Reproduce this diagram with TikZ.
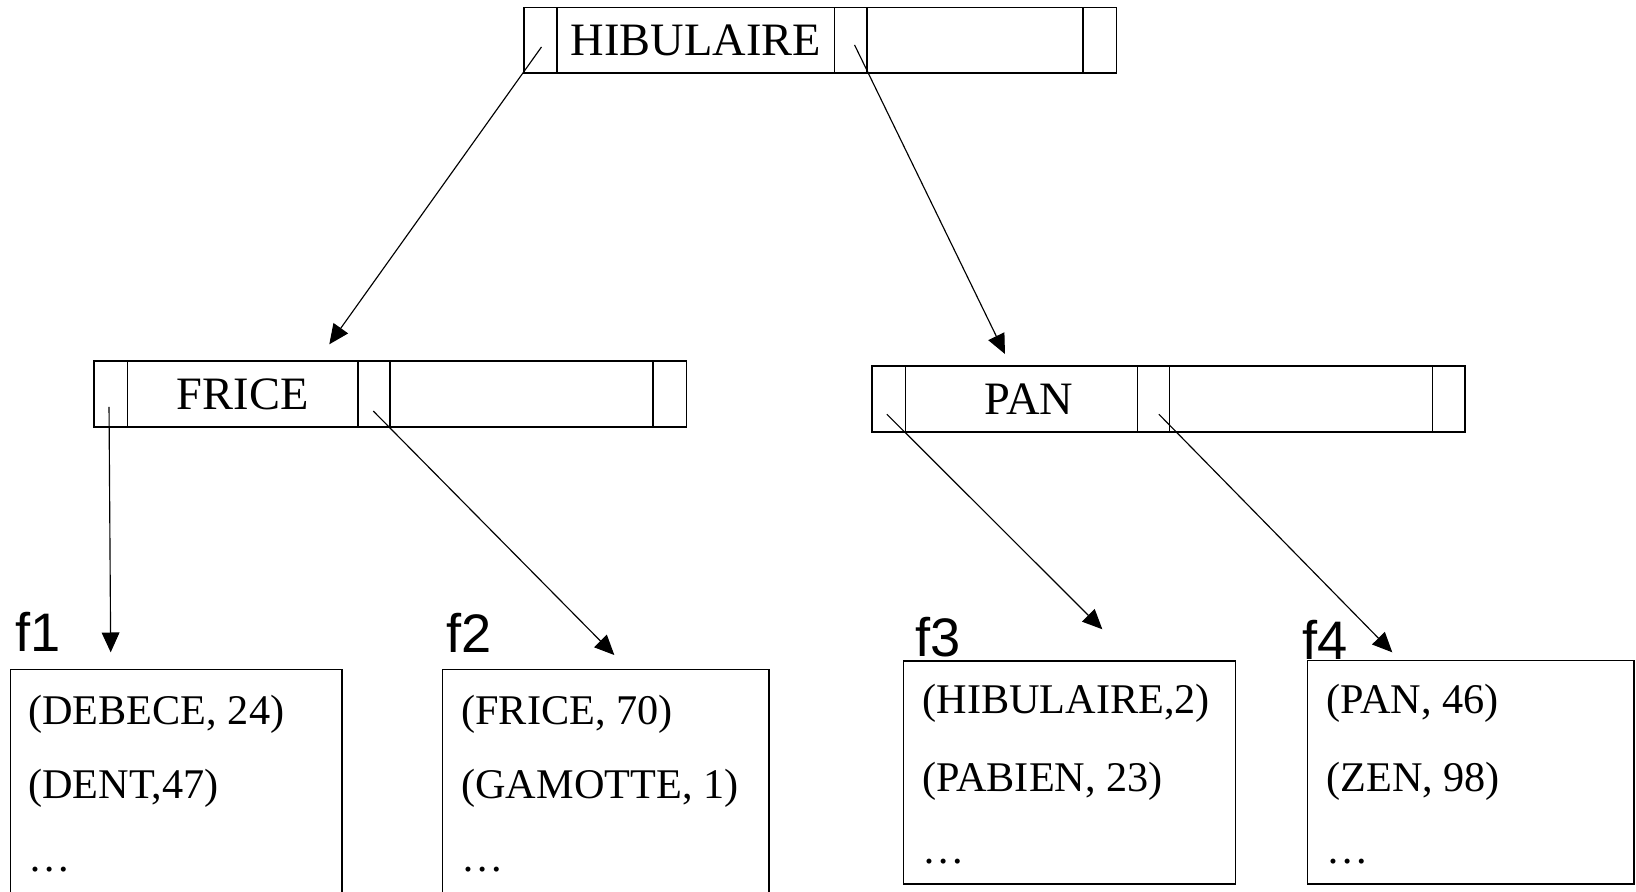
\documentclass[tikz,border=0pt]{standalone}
\usepackage{fontspec}
\setmainfont{Liberation Serif}
\newfontfamily\labelfont{Liberation Sans}
\usetikzlibrary{arrows.meta,calc}
\begin{document}
\begin{tikzpicture}[x=1pt,y=-1pt,
  cell/.style={draw,line width=1.5pt,minimum height=63pt,inner sep=0pt,outer sep=0pt,anchor=west,font=\fontsize{44.5}{50}\selectfont},
  leaf/.style={draw,line width=1.5pt,anchor=north west,inner sep=0pt,outer sep=0pt},
  entry/.style={anchor=base west,inner sep=0pt,font=\fontsize{40.5}{46}\selectfont},
  flabel/.style={anchor=base west,inner sep=0pt,font=\labelfont\fontsize{52}{58}\selectfont},
  ptr/.style={line width=1.1pt,-{Triangle[length=19pt,width=17pt]}}]
\useasboundingbox (0,0) rectangle (1568,854);
\clip (0,0) rectangle (1568,854);
% root index block
\node[cell,minimum width=32pt]  (h0) at (502,38.5) {};
\node[cell,minimum width=266pt] (h1) at (h0.east) {HIBULAIRE};
\node[cell,minimum width=31pt]  (h2) at (h1.east) {};
\node[cell,minimum width=207pt] (h3) at (h2.east) {};
\node[cell,minimum width=32pt]  (h4) at (h3.east) {};
% FRICE block
\node[cell,minimum width=32pt]  (a0) at (90,377.5) {};
\node[cell,minimum width=221pt] (a1) at (a0.east) {FRICE};
\node[cell,minimum width=31pt]  (a2) at (a1.east) {};
\node[cell,minimum width=252pt] (a3) at (a2.east) {};
\node[cell,minimum width=32pt]  (a4) at (a3.east) {};
% PAN block
\node[cell,minimum width=32pt]  (b0) at (836,382.5) {};
\node[cell,minimum width=222pt] (b1) at (b0.east) {\hspace*{14pt}PAN};
\node[cell,minimum width=31pt]  (b2) at (b1.east) {};
\node[cell,minimum width=252pt] (b3) at (b2.east) {};
\node[cell,minimum width=31pt]  (b4) at (b3.east) {};
% leaf blocks
\node[leaf,minimum width=318pt,minimum height=300pt] (L1) at (10,641.5) {};
\node[leaf,minimum width=313pt,minimum height=300pt] (L2) at (424,641.5) {};
\node[leaf,minimum width=318pt,minimum height=213.5pt] (L3) at (866,633.5) {};
\node[leaf,minimum width=313pt,minimum height=214pt] (L4) at (1253,633) {};
% file labels
\node[flabel] (l1) at (15,624) {f1};
\node[flabel] (l2) at (428,625) {f2};
\node[flabel] (l3) at (877,629) {f3};
\node[flabel] (l4) at (1248,632) {f4};
% entries
\node[entry] (e11) at (27,694) {(DEBECE, 24)};
\node[entry] (e12) at (27,765) {(DENT,47)};
\node[entry] (e13) at (27,835) {…};
\node[entry] (e21) at (442,694) {(FRICE, 70)};
\node[entry] (e22) at (442,765) {(GAMOTTE, 1)};
\node[entry] (e23) at (442,835) {…};
\node[entry] (e31) at (884,684) {(HIBULAIRE,2)};
\node[entry] (e32) at (884,759) {(PABIEN, 23)};
\node[entry] (e33) at (884,828) {…};
\node[entry] (e41) at (1271,684) {(PAN, 46)};
\node[entry] (e42) at (1271,759) {(ZEN, 98)};
\node[entry] (e43) at (1271,828) {…};
% pointer origins
\coordinate (s1) at ($(h0.center)+(1,6.5)$);
\coordinate (s2) at ($(h2.center)+(3.5,4.5)$);
\coordinate (s3) at ($(a0.center)+(-1.5,12.5)$);
\coordinate (s4) at ($(a2.center)+(-0.7,16.5)$);
\coordinate (s5) at ($(b0.center)+(-2,14.5)$);
\coordinate (s6) at ($(b2.center)+(5.2,14.5)$);
% pointer tips
\coordinate (t1) at (315.6,330);
\coordinate (t2) at (963.2,339.3);
\coordinate (t3) at (106.1,625.2);
\coordinate (t4) at (588.8,627.8);
\coordinate (t5) at (1056.5,603.1);
\coordinate (t6) at (1334.4,625.2);
\draw[ptr] (s1) -- (t1);
\draw[ptr] (s2) -- (t2);
\draw[ptr] (s3) -- (t3);
\draw[ptr] (s4) -- (t4);
\draw[ptr] (s5) -- (t5);
\draw[ptr] (s6) -- (t6);
\end{tikzpicture}
\end{document}
